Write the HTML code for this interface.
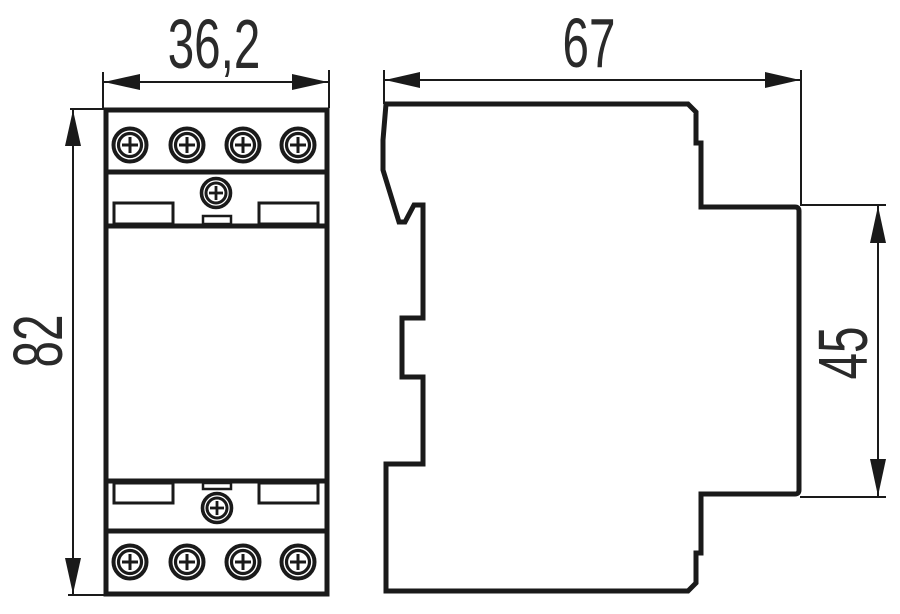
<!DOCTYPE html>
<html><head><meta charset="utf-8"><style>
html,body{margin:0;padding:0;background:#fff;}
svg{display:block;}
text{font-family:"Liberation Sans",sans-serif;fill:#2a2a2a;}
</style></head><body>
<svg width="900" height="614" viewBox="0 0 900 614" xmlns="http://www.w3.org/2000/svg">
<defs>
<g id="scr">
<circle r="16.5" fill="none" stroke="#1a1a1a" stroke-width="4"/>
<circle r="11.5" fill="none" stroke="#1a1a1a" stroke-width="3.2"/>
<line x1="-8" y1="0" x2="8" y2="0" stroke="#1a1a1a" stroke-width="3"/>
<line x1="0" y1="-8" x2="0" y2="8" stroke="#1a1a1a" stroke-width="3"/>
</g>
<g id="scrs">
<circle r="14.5" fill="none" stroke="#1a1a1a" stroke-width="3.6"/>
<circle r="10" fill="none" stroke="#1a1a1a" stroke-width="3"/>
<line x1="-7" y1="0" x2="7" y2="0" stroke="#1a1a1a" stroke-width="2.8"/>
<line x1="0" y1="-7" x2="0" y2="7" stroke="#1a1a1a" stroke-width="2.8"/>
</g>
</defs>
<g stroke="#1a1a1a" fill="none">
<rect x="106" y="110" width="221" height="484" stroke-width="5"/>
<line x1="106" y1="172" x2="327" y2="172" stroke-width="5"/>
<line x1="106" y1="226" x2="327" y2="226" stroke-width="5"/>
<line x1="106" y1="481" x2="327" y2="481" stroke-width="5"/>
<line x1="106" y1="531" x2="327" y2="531" stroke-width="5"/>
<rect x="114" y="203" width="59" height="21" stroke-width="3"/>
<rect x="259" y="203" width="59" height="21" stroke-width="3"/>
<rect x="203" y="216" width="28" height="8" stroke-width="2.5"/>
<rect x="114" y="483" width="59" height="20" stroke-width="3"/>
<rect x="259" y="483" width="59" height="20" stroke-width="3"/>
<rect x="203" y="483" width="28" height="6" stroke-width="2.5"/>
</g>
<use href="#scr" x="130" y="145"/><use href="#scr" x="187" y="145"/><use href="#scr" x="243" y="145"/><use href="#scr" x="298" y="145"/>
<use href="#scr" x="130" y="562"/><use href="#scr" x="187" y="562"/><use href="#scr" x="243" y="562"/><use href="#scr" x="298" y="562"/>
<use href="#scrs" x="216" y="193"/><use href="#scrs" x="217" y="508"/>
<path d="M386,104 L688,104 L696,112 L696,143 L701,143 L701,207 L795,207 Q799,207 799,211 L799,490 Q799,494 795,494 L701,494 L701,553 L696,553 L696,583 L688,591 L386,591 L386,464 L423,464 L423,377 L402,377 L402,318 L423,318 L423,205 L414,205 L405,222 L399,222 L383,170 L383,140 Z" fill="none" stroke="#1a1a1a" stroke-width="5" stroke-linejoin="miter"/>
<g stroke="#1a1a1a" stroke-width="2" fill="none">
<line x1="103" y1="72" x2="103" y2="108"/>
<line x1="329" y1="70" x2="329" y2="108"/>
<line x1="104" y1="82" x2="328" y2="82"/>
<line x1="384" y1="70" x2="384" y2="104"/>
<line x1="801" y1="70" x2="801" y2="206"/>
<line x1="385" y1="80" x2="800" y2="80"/>
<line x1="70" y1="109" x2="104" y2="109"/>
<line x1="68" y1="595" x2="104" y2="595"/>
<line x1="73" y1="110" x2="73" y2="594"/>
<line x1="800" y1="205" x2="886" y2="205"/>
<line x1="800" y1="497" x2="886" y2="497"/>
<line x1="878" y1="206" x2="878" y2="496"/>
</g>
<g fill="#1a1a1a">
<polygon points="104,82 140,74 140,90"/><polygon points="328,82 292,74 292,90"/>
<polygon points="385,80 420,72 420,88"/><polygon points="800,80 765,72 765,88"/>
<polygon points="73,110 65,146 81,146"/><polygon points="73,594 65,558 81,558"/>
<polygon points="878,206 870,243 886,243"/><polygon points="878,496 870,459 886,459"/>
</g>
<text transform="translate(214,68) scale(0.68,1)" font-size="70" text-anchor="middle">36,2</text>
<text transform="translate(589,67) scale(0.68,1)" font-size="70" text-anchor="middle">67</text>
<text transform="translate(62,341) rotate(-90) scale(0.68,1)" font-size="70" text-anchor="middle">82</text>
<text transform="translate(867,353) rotate(-90) scale(0.68,1)" font-size="70" text-anchor="middle">45</text>
</svg>
</body></html>
